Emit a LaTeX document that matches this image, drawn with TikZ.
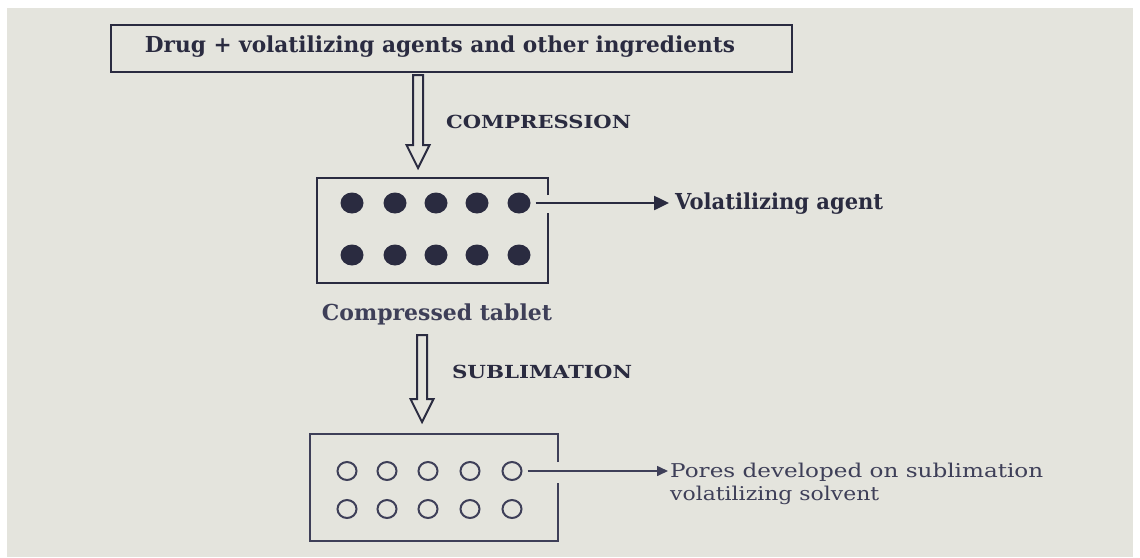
\documentclass[tikz,border=0pt]{standalone}
\usepackage{fontspec}
\setmainfont{DejaVu Serif}
\usepackage{graphicx}
\usetikzlibrary{arrows.meta,shapes.geometric,calc}
\definecolor{bg}{HTML}{E4E4DD}
\definecolor{ink}{HTML}{2A2B40}
\definecolor{inkb}{HTML}{3E3F58}
\newcommand{\fitw}[2]{\resizebox{#1}{\height}{#2}}
\newcommand{\hollowarrow}[2]{%
  \draw[hollow] ($(#1)+(-5,0)$) -- ($(#2)+(-5,-23)$) -- ($(#2)+(-11.5,-23)$) -- (#2)
    -- ($(#2)+(11.5,-23)$) -- ($(#2)+(5,-23)$) -- ($(#1)+(5,0)$) -- cycle;}
\begin{document}
\begin{tikzpicture}[x=1pt,y=-1pt,
  frame/.style={draw=ink, line width=2.5pt},
  lbl/.style={text=ink, font=\bfseries\fontsize{22}{26}\selectfont, inner sep=0pt},
  caps/.style={text=ink, font=\bfseries\fontsize{18}{22}\selectfont, inner sep=0pt},
  plain/.style={text=inkb, font=\fontsize{19}{23}\selectfont, inner sep=0pt},
  dot/.style={ellipse, fill=ink, minimum width=23pt, minimum height=21pt, inner sep=0pt},
  pore/.style={ellipse, draw=inkb, line width=2pt, minimum width=19pt, minimum height=18pt, inner sep=0pt},
  hollow/.style={draw=ink, line width=2pt, fill=bg, line join=miter},
  ptr/.style={draw=ink, line width=2.5pt, -{Triangle[length=15pt,width=14pt]}},
  ptrthin/.style={draw=inkb, line width=1.6pt, -{Triangle[length=11pt,width=10pt]}}]
\useasboundingbox (0,0) rectangle (1140,557);
\fill[white] (0,0) rectangle (1140,557);
\fill[bg] (7,8) rectangle (1133,557);

% source box
\node[frame, minimum width=681pt, minimum height=47pt, inner sep=0pt] (src) at (451.5,48.5) {};
\node[lbl] (srct) at (440,47) {\fitw{590pt}{Drug + volatilizing agents and other ingredients}};

% compression arrow
\coordinate (a1s) at (418,75);
\coordinate (a1e) at (418,168);
\hollowarrow{a1s}{a1e}
\node[caps] (comp) at (538.5,122) {\fitw{185pt}{COMPRESSION}};

% compressed tablet
\node[minimum width=231pt, minimum height=105pt, inner sep=0pt] (tab1) at (432.5,230.5) {};
\draw[frame] (548,195) -- (548,178) -- (317,178) -- (317,283) -- (548,283) -- (548,213);
\foreach \i/\x in {1/352,2/395,3/436,4/477,5/519}{
  \node[dot] (d\i) at (\x,203) {};
  \node[dot] (e\i) at (\x,255) {};
}
\node[lbl, anchor=west] (va) at (675,204) {\fitw{208pt}{Volatilizing agent}};
\draw[ptr, shorten <=5pt, shorten >=6pt] (d5.east) -- (d5.east -| va.west);
\node[lbl, text=inkb] (ct) at (437,314) {\fitw{230pt}{Compressed tablet}};

% sublimation arrow
\coordinate (a2s) at (422,335);
\coordinate (a2e) at (422,422);
\hollowarrow{a2s}{a2e}
\node[caps] (subl) at (542,372) {\fitw{180pt}{SUBLIMATION}};

% porous tablet
\node[minimum width=248pt, minimum height=107pt, inner sep=0pt] (tab2) at (434,487.5) {};
\draw[frame, draw=inkb] (558,462) -- (558,434) -- (310,434) -- (310,541) -- (558,541) -- (558,483);
\foreach \i/\x in {1/347,2/387,3/428,4/470,5/512}{
  \node[pore] (p\i) at (\x,471) {};
  \node[pore] (q\i) at (\x,509) {};
}
\node[plain, anchor=base west] (pl1) at (670,477) {\fitw{373pt}{Pores developed on sublimation}};
\node[plain, anchor=base west] (pl2) at (670,500) {\fitw{209pt}{volatilizing solvent}};
\draw[ptrthin, shorten <=5pt, shorten >=2pt] (p5.east) -- (p5.east -| pl1.west);
\end{tikzpicture}
\end{document}
